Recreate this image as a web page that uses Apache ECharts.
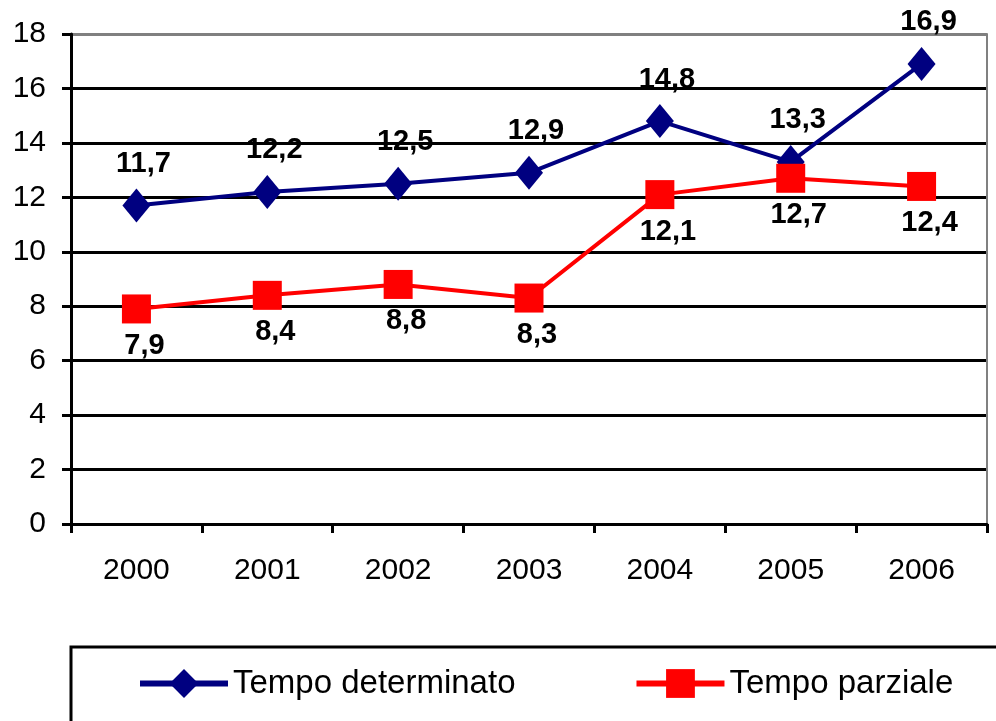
<!DOCTYPE html>
<html>
<head>
<meta charset="utf-8">
<script src="https://cdn.jsdelivr.net/npm/echarts@6/dist/echarts.min.js"></script>
<style>html,body{margin:0;padding:0;background:#fff}#c{width:996px;height:721px}</style>
</head>
<body>
<div id="c"></div>
<script>
var categories = ['2000','2001','2002','2003','2004','2005','2006'];
var tempoDeterminato = [11.7, 12.2, 12.5, 12.9, 14.8, 13.3, 16.9];
var tempoParziale = [7.9, 8.4, 8.8, 8.3, 12.1, 12.7, 12.4];
var seriesNames = ['Tempo determinato', 'Tempo parziale'];

var fmt = function (p) { return String(p.value).replace('.', ','); };
var chart = echarts.init(document.getElementById('c'), null, {renderer: 'canvas'});
var gridColors = ['#000','#000','#000','#000','#000','#000','#000','#000','#000','#808080'];
chart.setOption({
  animation: false,
  backgroundColor: '#fff',
  grid: {left: 71, right: 9, top: 34, bottom: 197, containLabel: false},
  legend: {
    left: 132, top: 662, itemWidth: 88, itemHeight: 36, itemGap: 118,
    lineStyle: {width: 6},
    textStyle: {fontFamily: 'Liberation Sans', fontSize: 33, color: '#000'},
    data: seriesNames
  },
  graphic: [{
    type: 'rect', silent: true, z: 0,
    shape: {x: 71, y: 647, width: 1000, height: 200},
    style: {fill: 'none', stroke: '#000', lineWidth: 3}
  }],
  xAxis: {
    type: 'category', data: categories, boundaryGap: true,
    axisLine: {lineStyle: {color: '#000', width: 3}},
    axisTick: {show: true, length: 9, lineStyle: {color: '#000', width: 3}},
    axisLabel: {margin: 32, fontFamily: 'Liberation Sans', fontSize: 30, color: '#000'},
    splitLine: {show: false}
  },
  yAxis: [{
    type: 'value', min: 0, max: 18, interval: 2,
    axisLine: {show: true, lineStyle: {color: '#000', width: 3}},
    axisTick: {show: true, length: 9, lineStyle: {color: '#000', width: 3}},
    axisLabel: {margin: 25, fontFamily: 'Liberation Sans', fontSize: 30, color: '#000'},
    splitLine: {show: true, lineStyle: {color: gridColors, width: 3}}
  }, {
    type: 'value', min: 0, max: 18, interval: 2, position: 'right',
    axisLine: {show: true, lineStyle: {color: '#808080', width: 2}},
    axisTick: {show: false}, axisLabel: {show: false}, splitLine: {show: false}
  }],
  series: [{
    name: seriesNames[0], type: 'line', data: tempoDeterminato, z: 3,
    symbol: 'diamond', symbolSize: [28, 34],
    lineStyle: {color: '#000080', width: 4},
    itemStyle: {color: '#000080'},
    label: {show: true, position: 'top', distance: 10, offset: [7, 0], formatter: fmt,
      fontFamily: 'Liberation Sans', fontWeight: 'bold', fontSize: 29, color: '#000'}
  }, {
    name: seriesNames[1], type: 'line', data: tempoParziale, z: 4,
    symbol: 'rect', symbolSize: [29, 29],
    lineStyle: {color: '#ff0000', width: 4},
    itemStyle: {color: '#ff0000'},
    label: {show: true, position: 'bottom', distance: 8, offset: [8, 0], formatter: fmt,
      fontFamily: 'Liberation Sans', fontWeight: 'bold', fontSize: 29, color: '#000'}
  }]
});
</script>
</body>
</html>
